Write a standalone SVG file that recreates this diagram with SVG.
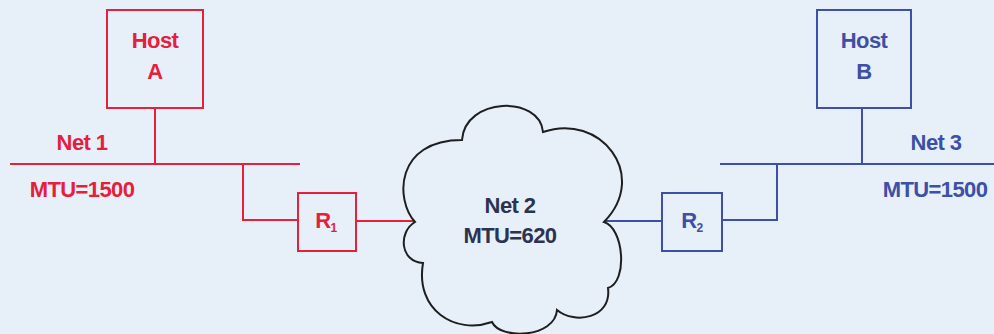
<svg xmlns="http://www.w3.org/2000/svg" width="994" height="334" viewBox="0 0 994 334">
  <style>
    text { font-family: "Liberation Sans", Arial, sans-serif; font-weight: bold; font-size: 22px; letter-spacing: -0.6px; text-anchor: middle; }
    .red { stroke: #e4203c; fill: none; stroke-width: 2; }
    .blue { stroke: #3d4fa6; fill: none; stroke-width: 2; }
    .tred { fill: #e4203c; }
    .tblue { fill: #3d4fa6; }
    .tdark { fill: #2b3350; }
  </style>
  <rect width="994" height="334" fill="#e7eff9"/>

  <!-- wiring: LAN segments, drops and router links -->
  <g id="connectors">
    <line class="red" x1="10" y1="164" x2="300" y2="164"/>
    <line class="red" x1="155" y1="108" x2="155" y2="164"/>
    <polyline class="red" points="243,164 243,220 298,220"/>
    <line class="red" x1="356" y1="221" x2="415" y2="221"/>

    <line class="blue" x1="720" y1="164" x2="994" y2="164"/>
    <line class="blue" x1="862" y1="108" x2="862" y2="164"/>
    <polyline class="blue" points="777,164 777,220 722,220"/>
    <line class="blue" x1="604" y1="221" x2="662" y2="221"/>
  </g>

  <g id="hostA">
    <rect class="red" x="107" y="10" width="96" height="98"/>
    <text class="tred" x="155" y="48">Host</text>
    <text class="tred" x="155" y="79">A</text>
  </g>

  <g id="net1">
    <text class="tred" x="82" y="150">Net 1</text>
    <text class="tred" x="82" y="197">MTU=1500</text>
  </g>

  <g id="r1">
    <rect class="red" x="298" y="193" width="58" height="58"/>
    <text class="tred" x="326" y="228" font-size="23">R<tspan font-size="12" dy="4">1</tspan></text>
  </g>

  <g id="net2">
    <path fill="none" stroke="#1e1e1e" stroke-width="2"
      d="M462,140 C465,97 540,95 543,132 C600,112 650,175 604,222 C624,228 628,282 608,288 C612,318 575,325 557,310 C555,338 500,340 492,322 C455,335 415,310 423,263 C400,262 398,232 415,222 C395,200 395,140 462,140 Z"/>
    <text class="tdark" x="510" y="213">Net 2</text>
    <text class="tdark" x="510" y="243">MTU=620</text>
  </g>

  <g id="r2">
    <rect class="blue" x="662" y="193" width="60" height="58"/>
    <text class="tblue" x="692" y="228" font-size="23">R<tspan font-size="12" dy="4">2</tspan></text>
  </g>

  <g id="hostB">
    <rect class="blue" x="817" y="10" width="94" height="98"/>
    <text class="tblue" x="864" y="48">Host</text>
    <text class="tblue" x="864" y="79">B</text>
  </g>

  <g id="net3">
    <text class="tblue" x="936" y="150">Net 3</text>
    <text class="tblue" x="935" y="197">MTU=1500</text>
  </g>
</svg>
